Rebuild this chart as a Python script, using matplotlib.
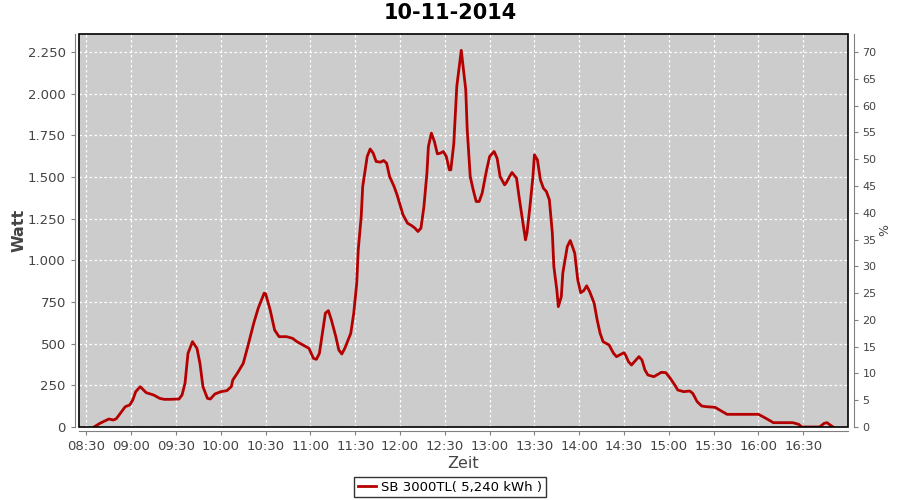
import matplotlib
matplotlib.use('Agg')
import matplotlib.pyplot as plt
from matplotlib.patches import Rectangle
from matplotlib.ticker import FuncFormatter, MultipleLocator

# time of day (HH:MM) and power (W)
times = ['08:35', '08:39', '08:45', '08:48', '08:50', '08:54', '08:56', '08:59', '09:01', '09:03',
         '09:06', '09:10', '09:15', '09:19', '09:22', '09:26', '09:32', '09:34', '09:36', '09:38',
         '09:41', '09:44', '09:46', '09:48', '09:51', '09:53', '09:56', '10:00', '10:04', '10:07',
         '10:08', '10:11', '10:15', '10:18', '10:22', '10:25', '10:29', '10:30', '10:33', '10:36',
         '10:39', '10:44', '10:48', '10:51', '10:55', '10:59', '11:02', '11:04', '11:06', '11:08',
         '11:10', '11:12', '11:14', '11:17', '11:19', '11:21', '11:23', '11:27', '11:29', '11:31',
         '11:32', '11:34', '11:35', '11:38', '11:40', '11:42', '11:44', '11:47', '11:49', '11:51',
         '11:53', '11:56', '11:58', '12:00', '12:02', '12:05', '12:08', '12:10', '12:12', '12:14',
         '12:16', '12:18', '12:19', '12:21', '12:23', '12:25', '12:27', '12:29', '12:31', '12:33',
         '12:34', '12:36', '12:38', '12:41', '12:44', '12:45', '12:47', '12:49', '12:51', '12:53',
         '12:55', '12:58', '13:00', '13:03', '13:05', '13:07', '13:10', '13:11', '13:14', '13:15',
         '13:18', '13:20', '13:22', '13:24', '13:25', '13:27', '13:29', '13:30', '13:32', '13:34',
         '13:36', '13:38', '13:40', '13:42', '13:43', '13:45', '13:46', '13:48', '13:49', '13:52',
         '13:54', '13:57', '13:59', '14:01', '14:03', '14:05', '14:07', '14:10', '14:12', '14:14',
         '14:16', '14:20', '14:23', '14:25', '14:27', '14:30', '14:31', '14:33', '14:35', '14:37',
         '14:40', '14:42', '14:44', '14:46', '14:50', '14:53', '14:55', '14:58', '15:01', '15:04',
         '15:06', '15:10', '15:14', '15:16', '15:19', '15:22', '15:25', '15:31', '15:34', '15:39',
         '16:00', '16:03', '16:07', '16:10', '16:23', '16:27', '16:29', '16:41', '16:44', '16:46',
         '16:48', '16:50']
watt = [0, 22, 48, 42, 50, 98, 122, 132, 162, 212,
        242, 206, 192, 172, 166, 166, 168, 192, 262, 442,
        512, 472, 382, 242, 172, 168, 198, 212, 218, 242,
        282, 322, 382, 482, 622, 712, 803, 799, 703, 582,
        542, 542, 532, 512, 492, 472, 412, 406, 442, 562,
        683, 698, 643, 542, 462, 438, 472, 562, 683, 863,
        1063, 1263, 1443, 1623, 1668, 1643, 1593, 1589, 1599, 1583,
        1503, 1443, 1393, 1333, 1273, 1223, 1207, 1193, 1173, 1193,
        1323, 1523, 1683, 1763, 1713, 1639, 1643, 1653, 1623, 1543,
        1543, 1700, 2043, 2260, 2024, 1783, 1503, 1423, 1353, 1353,
        1403, 1543, 1623, 1653, 1613, 1503, 1453, 1463, 1513, 1527,
        1493, 1363, 1243, 1123, 1163, 1323, 1503, 1633, 1603, 1483,
        1433, 1413, 1363, 1163, 963, 823, 722, 782, 923, 1083,
        1119, 1043, 883, 806, 818, 847, 812, 743, 643, 562,
        512, 492, 442, 422, 432, 446, 432, 392, 372, 392,
        422, 402, 342, 312, 302, 318, 328, 326, 292, 252,
        222, 212, 216, 202, 152, 126, 122, 118, 102, 76,
        76, 62, 42, 26, 26, 16, 0, 0, 22, 26,
        12, 0]

tick_times = ['08:30', '09:00', '09:30', '10:00', '10:30', '11:00', '11:30', '12:00', '12:30',
              '13:00', '13:30', '14:00', '14:30', '15:00', '15:30', '16:00', '16:30']
title = '10-11-2014'
series_name = 'SB 3000TL( 5,240 kWh )'


def to_min(s):
    h, m = s.split(':')
    return int(h) * 60 + int(m)


x = [to_min(t) for t in times]
ymax = 2358
gray = '#808080'

fig = plt.figure(figsize=(9, 5), dpi=100)
ax = fig.add_axes([79 / 900, 1 - 427 / 500, (848 - 79) / 900, (427 - 34) / 500])
ax.set_facecolor('#cccccc')

line, = ax.plot(x, watt, color='#b40000', lw=2, label=series_name)

ax.set_xlim(505, 1020)
ax.set_ylim(0, ymax)
ax.set_xticks([to_min(t) for t in tick_times])
ax.set_xticklabels(tick_times)
ax.yaxis.set_major_locator(MultipleLocator(250))
ax.yaxis.set_major_formatter(FuncFormatter(lambda v, p: f'{int(v):,}'.replace(',', '.')))
ax.grid(True, color='white', ls=(0, (2, 2)), lw=0.9)
ax.set_axisbelow(True)

for s in ['top', 'right']:
    ax.spines[s].set_visible(False)
for s in ['left', 'bottom']:
    ax.spines[s].set_position(('outward', 3))
    ax.spines[s].set_color(gray)
ax.tick_params(colors=gray, labelcolor='#444444', labelsize=9.5, length=3)

ax.add_patch(Rectangle((0, 0), 1, 1, transform=ax.transAxes, fill=False,
                       ec='black', lw=1.2, clip_on=False, zorder=5))

ax2 = ax.twinx()
ax2.set_ylim(0, ymax * 70 / 2250)
ax2.yaxis.set_major_locator(MultipleLocator(5))
for s in ['top', 'left', 'bottom']:
    ax2.spines[s].set_visible(False)
ax2.spines['right'].set_position(('outward', 4))
ax2.spines['right'].set_color(gray)
ax2.tick_params(colors=gray, labelcolor='#444444', labelsize=8, length=3)

ax.set_xlabel('Zeit', fontsize=11.5, color='#444444', labelpad=2)
ax.set_ylabel('Watt', fontsize=11.5, color='#444444', fontweight='bold', labelpad=1)
ax2.set_ylabel('%', fontsize=9, color='#444444', labelpad=1)

fig.text(0.5, 1 - 13 / 500, title, ha='center', va='center', fontsize=15, fontweight='bold')

leg = fig.legend(handles=[line], loc='center', bbox_to_anchor=(0.5, 1 - 487 / 500),
                 fontsize=9.5, frameon=True, fancybox=False, handlelength=1.4,
                 borderpad=0.3, handletextpad=0.4)
leg.get_frame().set_edgecolor('black')
leg.get_frame().set_linewidth(1)

fig.savefig('out.png', dpi=100)
